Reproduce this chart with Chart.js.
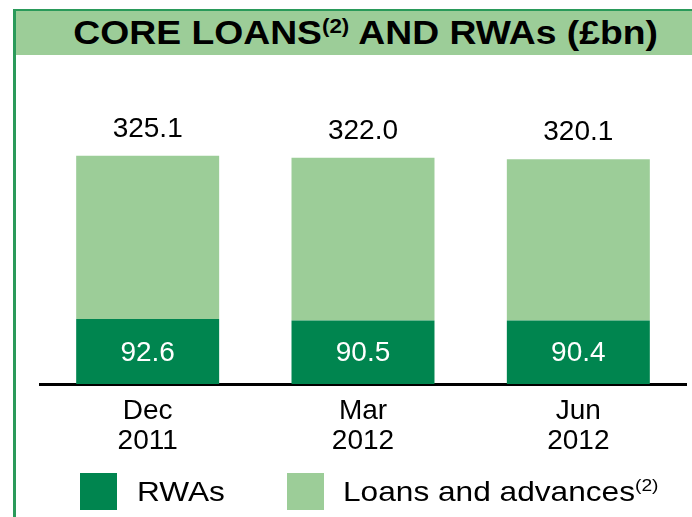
<!DOCTYPE html>
<html>
<head>
<meta charset="utf-8">
<script src="https://cdn.jsdelivr.net/npm/chart.js@4/dist/chart.umd.min.js"></script>
<style>
  body { margin: 0; background: #fff; font-family: "Liberation Sans", Arial, sans-serif; }
  #wrap { position: relative; width: 692px; height: 517px; overflow: hidden; }
  #frame { position: absolute; left: 13px; top: 9px; width: 700px; height: 520px;
           border-left: 3px solid #2a9a5a; border-top: 2px solid #2a9a5a; }
  #title { position: absolute; left: 16px; top: 11px; width: 676px; height: 44px; background: #9ccd98;
           font-weight: bold; font-size: 33px; line-height: 44px; color: #000; text-align: center;
           padding-left: 24px; box-sizing: border-box; white-space: nowrap; }
  #title span { display: inline-block; transform: scaleX(1.13); transform-origin: center; }
  #title sup { font-size: 0.6em; vertical-align: 0; position: relative; top: -0.55em; }
  canvas { position: absolute; left: 0; top: 0; }
  .sw { position: absolute; top: 473px; width: 37px; height: 37px; }
  .leg { position: absolute; top: 474px; font-size: 28px; line-height: 36px; color: #000; white-space: nowrap;
         transform: scaleX(1.13); transform-origin: left center; }
  .leg sup { font-size: 17px; vertical-align: 0; position: relative; top: -10px; }
</style>
</head>
<body>
<div id="wrap">
  <div id="frame"></div>
  <div id="title"><span>CORE LOANS<sup>(2)</sup> AND RWAs (£bn)</span></div>
  <canvas id="grafico" width="692" height="517"></canvas>
  <div class="sw" style="left:80px;background:#00854f"></div>
  <div class="leg" style="left:137px">RWAs</div>
  <div class="sw" style="left:287px;background:#9ccd98"></div>
  <div class="leg" style="left:343px">Loans and advances<sup>(2)</sup></div>
</div>
<script>
const periods = [['Dec', '2011'], ['Mar', '2012'], ['Jun', '2012']];
const totals = [325.1, 322.0, 320.1];
const rwas = [92.6, 90.5, 90.4];
const loans = totals.map((t, i) => +(t - rwas[i]).toFixed(1));

const darkGreen = '#00854f';
const lightGreen = '#9ccd98';
const fontFamily = '"Liberation Sans", Arial, sans-serif';

const labelsPlugin = {
  id: 'valueLabels',
  afterDatasetsDraw(chart) {
    const ctx = chart.ctx;
    ctx.save();
    ctx.font = '28px ' + fontFamily;
    ctx.textAlign = 'center';
    ctx.textBaseline = 'alphabetic';
    const rwaBars = chart.getDatasetMeta(0).data;
    const loanBars = chart.getDatasetMeta(1).data;
    rwaBars.forEach(function (bar, i) {
      ctx.fillStyle = '#fff';
      ctx.fillText(rwas[i].toFixed(1), bar.x, (bar.y + bar.base) / 2 + 9);
    });
    loanBars.forEach(function (bar, i) {
      ctx.fillStyle = '#000';
      ctx.fillText(totals[i].toFixed(1), bar.x, bar.y - 19);
    });
    ctx.restore();
  }
};

document.addEventListener('DOMContentLoaded', function () {
  const ctx = document.getElementById('grafico').getContext('2d');
  new Chart(ctx, {
    type: 'bar',
    data: {
      labels: periods,
      datasets: [{
        label: 'RWAs',
        data: rwas,
        backgroundColor: darkGreen,
        borderWidth: 0,
        categoryPercentage: 1,
        barPercentage: 0.664
      },
      {
        label: 'Loans and advances',
        data: loans,
        backgroundColor: lightGreen,
        borderWidth: 0,
        categoryPercentage: 1,
        barPercentage: 0.664
      }]
    },
    options: {
      responsive: false,
      animation: false,
      layout: { padding: { top: 103, bottom: 49, left: 40, right: 6 } },
      scales: {
        x: {
          stacked: true,
          grid: { display: false, drawTicks: false },
          border: { display: true, color: '#000', width: 3 },
          ticks: { color: '#000', padding: 12, font: { size: 28, family: fontFamily, lineHeight: 1.07 } }
        },
        y: {
          stacked: true,
          display: false,
          min: 0,
          max: 400
        }
      },
      plugins: {
        legend: { display: false },
        tooltip: { enabled: false }
      }
    },
    plugins: [labelsPlugin]
  });
});
</script>
</body>
</html>
